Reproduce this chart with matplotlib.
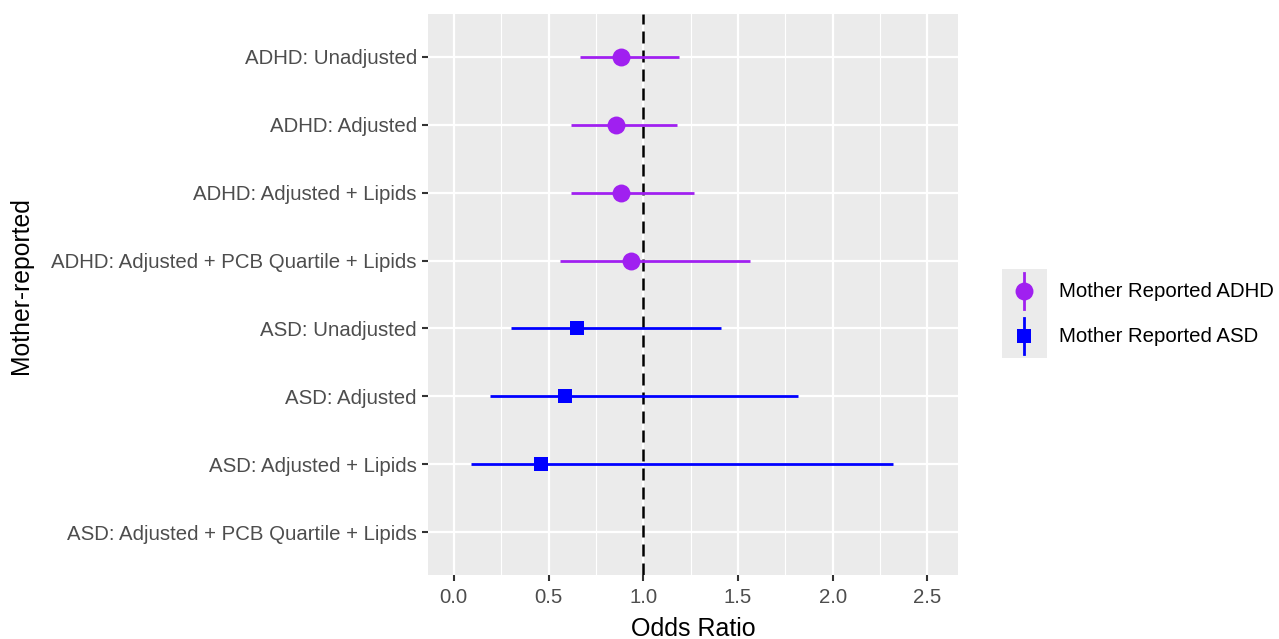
import numpy as np
import matplotlib
matplotlib.use("Agg")
import matplotlib.pyplot as plt
from matplotlib.legend_handler import HandlerBase
from matplotlib.patches import Rectangle
from matplotlib.lines import Line2D

plt.rcParams['font.family'] = ['Liberation Sans', 'DejaVu Sans']

# ---- data ----
categories = [
    "ADHD: Unadjusted",
    "ADHD: Adjusted",
    "ADHD: Adjusted + Lipids",
    "ADHD: Adjusted + PCB Quartile + Lipids",
    "ASD: Unadjusted",
    "ASD: Adjusted",
    "ASD: Adjusted + Lipids",
    "ASD: Adjusted + PCB Quartile + Lipids",
]
adhd_or = [0.885, 0.855, 0.885, 0.934]
adhd_lo = [0.665, 0.621, 0.621, 0.559]
adhd_hi = [1.187, 1.177, 1.268, 1.565]
asd_or = [0.649, 0.587, 0.459, np.nan]
asd_lo = [0.301, 0.190, 0.090, np.nan]
asd_hi = [1.411, 1.818, 2.320, np.nan]
series_labels = ["Mother Reported ADHD", "Mother Reported ASD"]
x_ticks = [0.0, 0.5, 1.0, 1.5, 2.0, 2.5]

PURPLE = "#A020F0"
BLUE = "#0000FF"
FS = 14.7

fig = plt.figure(figsize=(12.79, 6.39), dpi=100)
ax = fig.add_axes([428/1279, 1-575/639, (958-428)/1279, (575-14)/639])
ax.set_facecolor("#EBEBEB")
for s in ax.spines.values():
    s.set_visible(False)

ypos = np.arange(len(categories))
y_adhd = ypos[:4]
y_asd = ypos[4:]

ax.set_xlim(-0.136, 2.661)
ax.set_ylim(len(categories) - 1 + 0.63, -0.63)
ax.set_xticks(x_ticks)
ax.set_xticklabels([f"{t:.1f}" for t in x_ticks])
ax.set_xticks(np.arange(0.25, 2.75, 0.5), minor=True)
ax.set_yticks(ypos)
ax.set_yticklabels(categories)
ax.grid(True, which='major', color='white', lw=1.6)
ax.grid(True, which='minor', axis='x', color='white', lw=0.8)
ax.set_axisbelow(True)
ax.tick_params(axis='both', which='major', length=4, width=1.5, color='#333333',
               labelcolor='#4D4D4D', labelsize=FS, pad=4)
ax.tick_params(axis='x', which='major', pad=5.5)
ax.tick_params(axis='x', which='minor', length=0)

ax.axvline(1.0, color='black', lw=1.8, linestyle=(0, (4.8, 2.8)), zorder=2)

a_or = np.array(adhd_or); a_lo = np.array(adhd_lo); a_hi = np.array(adhd_hi)
s_or = np.array(asd_or); s_lo = np.array(asd_lo); s_hi = np.array(asd_hi)
ax.hlines(y_adhd, a_lo, a_hi, color=PURPLE, lw=2, zorder=3)
ax.plot(a_or, y_adhd, 'o', color=PURPLE, ms=12.9, zorder=4, markeredgewidth=0)
ax.hlines(y_asd, s_lo, s_hi, color=BLUE, lw=2, zorder=3)
ax.plot(s_or, y_asd, 's', color=BLUE, ms=10.2, zorder=4, markeredgewidth=0)

ax.set_xlabel("Odds Ratio", fontsize=18, color='black', labelpad=7)
fig.text(21/1279, 1-286/639, "Mother-reported", rotation=90, fontsize=17.8,
         ha='center', va='center', color='black')


class PointRangeHandler(HandlerBase):
    def create_artists(self, legend, orig_handle, xdescent, ydescent, width, height,
                       fontsize, trans):
        color, marker, ms = orig_handle
        rect = Rectangle((-xdescent, -ydescent), width, height, facecolor='#EBEBEB',
                         edgecolor='none', transform=trans)
        cx = -xdescent + width / 2
        y0 = -ydescent
        vl = Line2D([cx, cx], [y0 + height * 0.1, y0 + height * 0.9],
                    color=color, lw=2, transform=trans)
        mk = Line2D([cx], [y0 + height / 2], marker=marker, ms=ms, color=color,
                    markeredgewidth=0, linestyle='none', transform=trans)
        return [rect, vl, mk]


handles = [(PURPLE, 'o', 12.9), (BLUE, 's', 10.2)]
key_pt = 44.5 * 72 / 100
hh = (key_pt / FS - 0.245) / 0.65
leg = fig.legend(handles, series_labels, handler_map={tuple: PointRangeHandler()},
                 loc='center left', bbox_to_anchor=(1002/1279, 1-313.5/639),
                 frameon=False, fontsize=FS, borderpad=0, borderaxespad=0,
                 handlelength=key_pt / FS, handleheight=hh,
                 labelspacing=0, handletextpad=0.62)

fig.savefig("out.png", dpi=100)
